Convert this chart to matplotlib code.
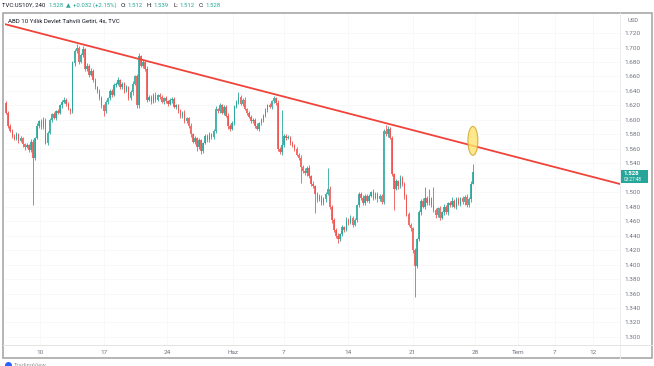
import matplotlib.pyplot as plt
import numpy as np
from matplotlib.patches import Ellipse, Rectangle
from matplotlib.lines import Line2D

# 1. Data (TVC:US10Y, 4h candles)
first_open = 1.623
closes = [
    1.610, 1.592, 1.585, 1.578, 1.574, 1.580, 1.571, 1.575, 1.566, 1.563, 1.565, 1.558, 1.570, 1.548, 1.575, 1.592, 1.598, 1.590, 1.600, 1.568,
    1.582, 1.600, 1.608, 1.603, 1.612, 1.610, 1.620, 1.625, 1.628, 1.622, 1.615, 1.612, 1.678, 1.695, 1.700, 1.680, 1.690, 1.698, 1.670, 1.675,
    1.662, 1.668, 1.655, 1.645, 1.640, 1.630, 1.620, 1.612, 1.625, 1.630, 1.640, 1.635, 1.648, 1.650, 1.655, 1.645, 1.650, 1.640, 1.645, 1.630,
    1.638, 1.650, 1.660, 1.620, 1.688, 1.675, 1.680, 1.670, 1.628, 1.632, 1.625, 1.635, 1.628, 1.634, 1.632, 1.625, 1.630, 1.626, 1.622, 1.627,
    1.629, 1.618, 1.620, 1.612, 1.605, 1.610, 1.598, 1.602, 1.592, 1.580, 1.570, 1.575, 1.562, 1.572, 1.557, 1.568, 1.578, 1.572, 1.580, 1.576,
    1.585, 1.615, 1.612, 1.620, 1.610, 1.618, 1.606, 1.592, 1.588, 1.596, 1.618, 1.625, 1.632, 1.622, 1.628, 1.615, 1.610, 1.604, 1.598, 1.600,
    1.592, 1.588, 1.595, 1.600, 1.606, 1.614, 1.620, 1.618, 1.626, 1.630, 1.624, 1.560, 1.555, 1.565, 1.578, 1.575, 1.576, 1.568, 1.565, 1.560,
    1.552, 1.548, 1.535, 1.530, 1.526, 1.534, 1.522, 1.512, 1.508, 1.498, 1.490, 1.494, 1.485, 1.490, 1.498, 1.505, 1.480, 1.462, 1.448, 1.440,
    1.435, 1.442, 1.452, 1.448, 1.462, 1.458, 1.465, 1.455, 1.462, 1.482, 1.498, 1.492, 1.485, 1.495, 1.488, 1.495, 1.500, 1.492, 1.498, 1.490,
    1.495, 1.487, 1.585, 1.580, 1.588, 1.575, 1.525, 1.505, 1.515, 1.508, 1.520, 1.512, 1.495, 1.470, 1.455, 1.450, 1.420, 1.398, 1.435, 1.472,
    1.488, 1.480, 1.492, 1.485, 1.492, 1.482, 1.475, 1.468, 1.478, 1.465, 1.472, 1.480, 1.472, 1.485, 1.482, 1.488, 1.480, 1.490, 1.484, 1.492,
    1.486, 1.494, 1.482, 1.490, 1.512, 1.528,
]
# wick lengths above / below the body, in thousandths
wick_up = [
    3, 2, 2, 3, 2, 3, 2, 3, 2, 2, 3, 2, 4, 3, 2, 3, 2, 3, 4, 2,
    2, 3, 2, 3, 2, 3, 2, 3, 4, 2, 3, 2, 3, 3, 5, 2, 3, 4, 2, 3,
    2, 3, 2, 3, 2, 2, 3, 2, 3, 2, 3, 2, 3, 2, 4, 2, 3, 2, 3, 2,
    3, 4, 2, 3, 5, 2, 3, 2, 4, 2, 3, 2, 3, 2, 3, 2, 2, 3, 2, 3,
    2, 3, 2, 2, 3, 2, 3, 2, 2, 3, 2, 3, 2, 3, 2, 2, 3, 2, 3, 2,
    3, 4, 2, 3, 2, 3, 2, 3, 2, 3, 3, 2, 6, 3, 2, 3, 2, 2, 3, 2,
    2, 3, 2, 3, 2, 3, 2, 3, 2, 3, 2, 3, 2, 49, 3, 2, 3, 2, 3, 2,
    3, 2, 3, 2, 3, 2, 3, 2, 3, 2, 3, 4, 2, 3, 2, 29, 3, 2, 3, 2,
    3, 2, 3, 2, 4, 2, 3, 2, 3, 2, 3, 2, 4, 3, 2, 3, 2, 5, 3, 2,
    3, 2, 3, 8, 3, 2, 3, 2, 3, 2, 4, 3, 2, 3, 2, 3, 2, 3, 2, 3,
    3, 4, 15, 3, 12, 2, 25, 3, 2, 3, 2, 4, 3, 2, 3, 6, 2, 4, 3, 2,
    3, 2, 4, 3, 3, 11,
]
wick_dn = [
    2, 3, 2, 3, 2, 2, 3, 2, 3, 4, 2, 3, 2, 66, 3, 2, 3, 2, 3, 2,
    3, 2, 3, 2, 3, 2, 2, 3, 2, 3, 2, 4, 2, 3, 2, 3, 2, 3, 2, 3,
    3, 2, 3, 2, 3, 2, 3, 7, 2, 3, 2, 3, 2, 3, 2, 3, 2, 3, 2, 3,
    2, 3, 2, 4, 3, 2, 3, 2, 3, 2, 3, 2, 3, 2, 3, 2, 3, 2, 3, 2,
    3, 2, 3, 2, 3, 2, 3, 2, 3, 4, 2, 3, 5, 2, 4, 3, 2, 3, 2, 3,
    2, 3, 2, 3, 2, 3, 2, 4, 3, 2, 3, 2, 3, 2, 3, 2, 3, 2, 3, 2,
    3, 2, 3, 2, 3, 2, 3, 2, 3, 2, 3, 3, 2, 3, 2, 3, 2, 3, 2, 3,
    2, 3, 22, 3, 2, 3, 2, 3, 2, 27, 3, 2, 3, 2, 3, 2, 3, 4, 3, 3,
    5, 3, 2, 3, 2, 3, 2, 3, 2, 3, 2, 3, 2, 3, 2, 3, 2, 3, 2, 3,
    2, 3, 3, 2, 3, 2, 3, 30, 2, 3, 2, 3, 4, 3, 2, 3, 4, 43, 3, 2,
    3, 2, 3, 2, 3, 2, 3, 4, 2, 3, 2, 3, 2, 3, 2, 3, 2, 3, 2, 3,
    2, 3, 2, 3, 3, 0,
]

price_ticks = [1.300, 1.320, 1.340, 1.360, 1.380, 1.400, 1.420, 1.440, 1.460, 1.480, 1.500,
               1.520, 1.540, 1.560, 1.580, 1.600, 1.620, 1.640, 1.660, 1.680, 1.700, 1.720]
time_labels = ['10', '17', '24', 'Haz', '7', '14', '21', '28', 'Tem', '7', '12']
time_tick_bars = [16.2, 47.0, 77.6, 109.4, 134, 165, 196, 226, 246.7, 264.6, 282.9]

trend_x = [10.6, 296.4]
trend_y = [1.724, 1.511]
mark_bar, mark_price = 225, 1.571

last_price = 1.528
header = [('TVC:US10Y, 240', 'dark', 0), ('1.528', 'green', 2.5), ('\u25b2', 'green', 1.5),
          ('+0.032 (+2.15%)', 'green', 1.5), ('O:', 'dark', 3), ('1.512', 'green', 1),
          ('H:', 'dark', 3), ('1.539', 'green', 1), ('L:', 'dark', 3), ('1.512', 'green', 1),
          ('C:', 'dark', 3), ('1.528', 'green', 1)]

# 2. Candles
closes = np.array(closes)
opens = np.concatenate([[first_open], closes[:-1]])
highs = np.maximum(opens, closes) + np.array(wick_up) / 1000
lows = np.minimum(opens, closes) - np.array(wick_dn) / 1000
bars = np.arange(len(closes))

GREEN = '#26a69a'
RED = '#ef5350'
DARK = '#131722'
GREY = '#6f7480'
col = np.where(closes >= opens, GREEN, RED)

plt.rcParams['font.family'] = ['Roboto', 'DejaVu Sans']

W, H = 654, 366
fig = plt.figure(figsize=(W / 100, H / 100), dpi=100)
fig.patch.set_facecolor('white')


def fx(x):
    return x / W


def fy(y):
    return 1 - y / H


ax = fig.add_axes([fx(5), fy(345), fx(615), 331 / H])
for s in ax.spines.values():
    s.set_visible(False)

ax.vlines(bars, lows, highs, colors=col, lw=0.7, alpha=0.85, zorder=2)
body = np.abs(closes - opens)
body = np.where(body < 0.0015, 0.0015, body)
ax.bar(bars, body, bottom=np.minimum(opens, closes), width=0.72, color=col, alpha=0.85,
       lw=0, zorder=3)

# trend line + highlight
ax.axline((trend_x[0], trend_y[0]), (trend_x[1], trend_y[1]), color='#f0433a', lw=1.3, zorder=4)
ax.add_patch(Ellipse((mark_bar, mark_price), 4.8, 0.040, fc='#ffe36e', ec='#c9a227',
                     lw=0.8, alpha=0.8, zorder=5))

ax.set_xlim(-0.5, 295.9)
ax.set_ylim(1.2889, 1.7463)
ax.yaxis.tick_right()
ax.set_yticks(price_ticks, [f'{p:.3f}' for p in price_ticks])
ax.set_xticks(time_tick_bars, time_labels)
ax.tick_params(axis='y', length=0, pad=3.5, labelsize=4.6, labelcolor=GREY)
ax.tick_params(axis='x', length=0, pad=3.5, labelsize=4.6, labelcolor=GREY)
ax.grid(True, color='#f7f7f7', lw=0.6)
ax.set_axisbelow(True)

# 3. Frame and separators
fig.add_artist(Rectangle((fx(3), fy(358)), fx(649), 345 / H, transform=fig.transFigure,
                         fill=False, ec='#a0a0a0', lw=1.1))
fig.add_artist(Line2D([fx(3), fx(652)], [fy(345), fy(345)], color='#e3e3e3', lw=0.7))
fig.add_artist(Line2D([fx(620), fx(620)], [fy(13), fy(358)], color='#ececec', lw=0.7))

# last price tag on the price scale
fig.add_artist(Rectangle((fx(621), fy(183)), fx(27), 13.5 / H, transform=fig.transFigure,
                         color=GREEN, lw=0))
fig.text(fx(624), fy(173.5), f'{last_price:.3f}', color='white', fontsize=4.4,
         fontweight='bold', va='center', ha='left')
fig.text(fx(624), fy(179.8), '03:27:48', color='white', fontsize=3.4, va='center', ha='left')
fig.text(fx(628), fy(20), 'USD', color=GREY, fontsize=4.2, va='center', ha='left')

# 4. Header texts
colors = {'dark': DARK, 'green': GREEN}
prev = fig.text(fx(2), fy(5.5), header[0][0], color=colors[header[0][1]], fontsize=4.3,
                va='center', ha='left')
for txt, c, gap in header[1:]:
    prev = ax.annotate(txt, xy=(1, 0.5), xycoords=prev, xytext=(gap, 0), textcoords='offset points',
                       va='center', ha='left', color=colors[c], fontsize=4.3, annotation_clip=False)

fig.text(fx(8), fy(21), 'ABD 10 Y\u0131ll\u0131k Devlet Tahvili Getiri, 4s, TVC', color=DARK,
         fontsize=4.4, va='center', ha='left')

# logo strip at the bottom (cut off in the screenshot)
fig.add_artist(Line2D([fx(8)], [fy(364.5)], marker='o', ms=4, color='#2962ff', lw=0))
fig.text(fx(14), fy(365), 'TradingView', color='#9a9a9a', fontsize=4.2, va='center', ha='left')

plt.savefig('out.png', dpi=100, facecolor='white')
